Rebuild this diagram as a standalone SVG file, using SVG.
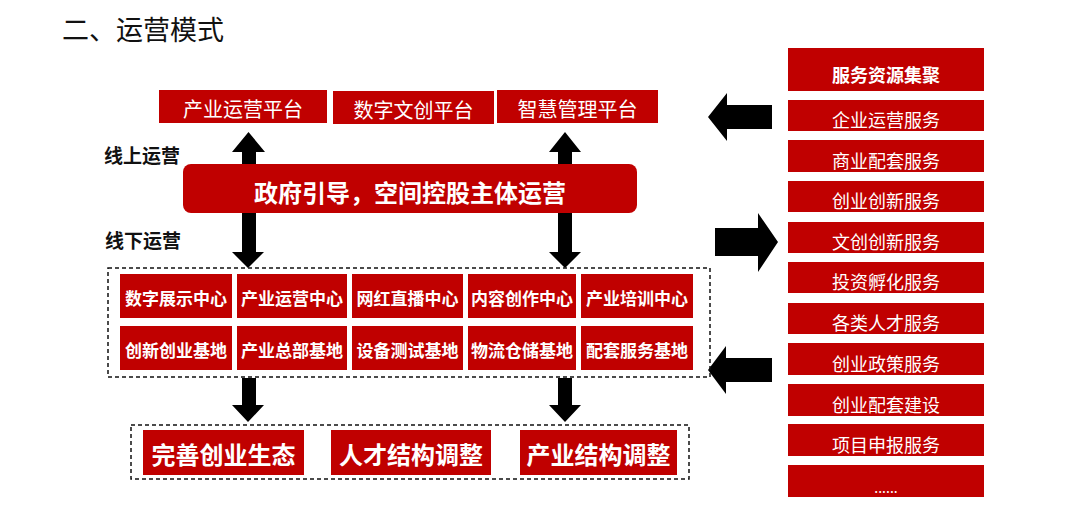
<svg xmlns="http://www.w3.org/2000/svg" width="1080" height="519" viewBox="0 0 1080 519">
<style>
text{font-family:"Noto Sans CJK SC","Liberation Sans",sans-serif;}
.box{fill:#C00000;}
.w{fill:#fff;text-anchor:middle;dominant-baseline:central;}
.b{font-weight:bold;}
.dash{fill:none;stroke:#111;stroke-width:1.5;stroke-dasharray:4 3;}
.arr{fill:#000;}
</style>
<rect width="1080" height="519" fill="#fff"/>
<text x="62" y="40" font-size="27" fill="#111">二、运营模式</text>

<g id="connectors">
<polygon class="arr" points="242,164 242,152 232,152 248.5,132 265,152 256,152 256,164"/>
<polygon class="arr" points="558,164 558,152 549,152 565,132 581,152 572,152 572,164"/>
<polygon class="arr" points="242,213 242,252 232,252 248,268 264,252 256,252 256,213"/>
<polygon class="arr" points="558,213 558,252 549,252 565,268 581,252 572,252 572,213"/>
<polygon class="arr" points="242,378 242,405 232,405 248,422 264,405 256,405 256,378"/>
<polygon class="arr" points="558,378 558,405 549,405 565,422 581,405 572,405 572,378"/>
<polygon class="arr" points="772,105 727,105 727,93 708,117 727,141 727,129 772,129"/>
<polygon class="arr" points="715,228 758,228 758,213 778,242 758,272 758,256 715,256"/>
<polygon class="arr" points="772,358 726,358 726,346 708,370 726,394 726,382 772,382"/>
</g>

<g id="top-platforms">
<g id="p1"><rect class="box" x="159" y="90" width="168" height="33"/><text class="w" x="243" y="108.5" font-size="20">产业运营平台</text></g>
<g id="p2"><rect class="box" x="333" y="91" width="161" height="33"/><text class="w" x="413.5" y="109" font-size="20">数字文创平台</text></g>
<g id="p3"><rect class="box" x="497" y="90" width="161" height="33"/><text class="w" x="577.5" y="108.5" font-size="20">智慧管理平台</text></g>
</g>

<g id="labels">
<text x="104" y="163" font-size="19" font-weight="bold" fill="#111">线上运营</text>
<text x="105" y="248" font-size="19" font-weight="bold" fill="#111">线下运营</text>
</g>

<g id="main">
<rect class="box" x="183" y="164" width="454" height="49" rx="8"/>
<text class="w b" x="410" y="191.5" font-size="24">政府引导，空间控股主体运营</text>
</g>

<g id="offline">
<rect class="dash" x="108" y="268" width="602" height="109"/>
<g id="c1"><rect class="box" x="120" y="274" width="112" height="44"/><text class="w b" x="176" y="297" font-size="17">数字展示中心</text></g>
<g id="c2"><rect class="box" x="237" y="274" width="110" height="44"/><text class="w b" x="292" y="297" font-size="17">产业运营中心</text></g>
<g id="c3"><rect class="box" x="352" y="274" width="111" height="44"/><text class="w b" x="407.5" y="297" font-size="17">网红直播中心</text></g>
<g id="c4"><rect class="box" x="468" y="274" width="108" height="44"/><text class="w b" x="522" y="297" font-size="17">内容创作中心</text></g>
<g id="c5"><rect class="box" x="581" y="274" width="112" height="44"/><text class="w b" x="637" y="297" font-size="17">产业培训中心</text></g>
<g id="c6"><rect class="box" x="120" y="326" width="112" height="44"/><text class="w b" x="176" y="349.5" font-size="17">创新创业基地</text></g>
<g id="c7"><rect class="box" x="237" y="326" width="110" height="44"/><text class="w b" x="292" y="349.5" font-size="17">产业总部基地</text></g>
<g id="c8"><rect class="box" x="352" y="326" width="111" height="44"/><text class="w b" x="407.5" y="349.5" font-size="17">设备测试基地</text></g>
<g id="c9"><rect class="box" x="468" y="326" width="108" height="44"/><text class="w b" x="522" y="349.5" font-size="17">物流仓储基地</text></g>
<g id="c10"><rect class="box" x="581" y="326" width="112" height="44"/><text class="w b" x="637" y="349.5" font-size="17">配套服务基地</text></g>
</g>

<g id="outcomes">
<rect class="dash" x="131" y="425" width="558" height="54"/>
<g id="o1"><rect class="box" x="143" y="430" width="161" height="45"/><text class="w b" x="223.5" y="453.5" font-size="24">完善创业生态</text></g>
<g id="o2"><rect class="box" x="331" y="430" width="160" height="45"/><text class="w b" x="411" y="453.5" font-size="24">人才结构调整</text></g>
<g id="o3"><rect class="box" x="520" y="430" width="157" height="45"/><text class="w b" x="598.5" y="453.5" font-size="24">产业结构调整</text></g>
</g>

<g id="services">
<g id="s0"><rect class="box" x="788" y="48" width="196" height="43"/><text class="w b" x="886" y="74" font-size="18">服务资源集聚</text></g>
<g id="s1"><rect class="box" x="788" y="100" width="196" height="31"/><text class="w" x="886" y="119" font-size="18">企业运营服务</text></g>
<g id="s2"><rect class="box" x="788" y="140" width="196" height="32"/><text class="w" x="886" y="159.5" font-size="18">商业配套服务</text></g>
<g id="s3"><rect class="box" x="788" y="181" width="196" height="31"/><text class="w" x="886" y="200" font-size="18">创业创新服务</text></g>
<g id="s4"><rect class="box" x="788" y="222" width="196" height="31"/><text class="w" x="886" y="241" font-size="18">文创创新服务</text></g>
<g id="s5"><rect class="box" x="788" y="262" width="196" height="31"/><text class="w" x="886" y="281" font-size="18">投资孵化服务</text></g>
<g id="s6"><rect class="box" x="788" y="303" width="196" height="31"/><text class="w" x="886" y="322" font-size="18">各类人才服务</text></g>
<g id="s7"><rect class="box" x="788" y="343" width="196" height="32"/><text class="w" x="886" y="362.5" font-size="18">创业政策服务</text></g>
<g id="s8"><rect class="box" x="788" y="384" width="196" height="32"/><text class="w" x="886" y="403.5" font-size="18">创业配套建设</text></g>
<g id="s9"><rect class="box" x="788" y="424" width="196" height="32"/><text class="w" x="886" y="443.5" font-size="18">项目申报服务</text></g>
<g id="s10"><rect class="box" x="788" y="465" width="196" height="32"/><text class="w" x="886" y="487" font-size="14">......</text></g>
</g>
</svg>
